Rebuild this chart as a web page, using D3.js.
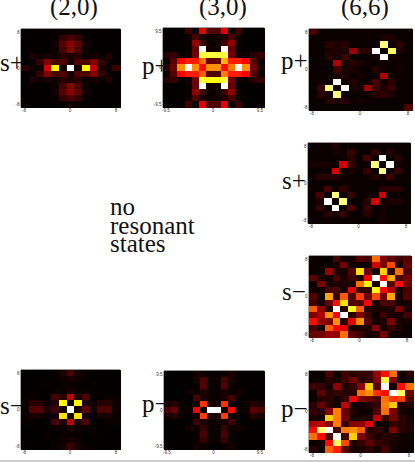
<!DOCTYPE html>
<html><head><meta charset="utf-8">
<style>html,body{margin:0;padding:0;background:#fff}svg{display:block}</style>
<script src="https://cdn.jsdelivr.net/npm/d3@7"></script></head><body>
<svg id="c" width="415" height="462"></svg>
<script>
const titles = ["(2,0)", "(3,0)", "(6,6)"];
const noteLines = ["no", "resonant", "states"];
const rowLabels = ["s+", "p+", "p+", "s+", "s\u2212", "p\u2212", "s\u2212", "p\u2212"];
const tickLabels20 = ["-8", "0", "8"];
const tickLabels30 = ["-9.5", "0", "9.5"];
const tickLabels66 = ["-8", "0", "8"];

const grid20sPlus = [
[1,1,1,1,1,2,3,2,1,1,1,1,1],
[1,1,1,1,2,10,15,10,2,1,1,1,1],
[1,1,1,1,4,18,28,18,4,1,1,1,1],
[1,1,1,1,3,14,25,14,3,1,1,1,1],
[1,6,2,4,3,8,5,8,3,4,2,6,1],
[1,2,10,25,14,15,3,15,14,25,10,2,1],
[8,3,3,36,72,3,100,3,72,34,6,3,10],
[1,2,10,25,14,15,3,15,14,25,10,2,1],
[1,6,2,4,3,8,5,8,3,4,2,6,1],
[1,1,1,1,3,14,25,14,3,1,1,1,1],
[1,1,1,1,4,18,28,18,4,1,1,1,1],
[1,1,1,1,2,10,15,10,2,1,1,1,1],
[1,1,1,1,1,2,3,2,1,1,1,1,1]];

const grid30pPlus = [
[1,1,1,12,3,38,16,16,38,3,12,1,1,1],
[1,1,1,3,14,6,3,3,6,14,3,1,1,1],
[1,1,1,2,28,12,3,3,12,28,2,1,1,1],
[1,1,1,2,20,100,4,4,100,20,2,1,1,1],
[8,10,2,3,22,78,78,78,78,22,3,2,8,10],
[3,16,40,45,45,58,20,20,65,45,45,40,16,3],
[8,20,62,100,62,42,62,62,42,60,100,62,22,4],
[3,16,40,45,45,55,15,15,60,45,45,40,16,3],
[8,10,2,3,22,78,74,74,78,22,3,2,8,10],
[1,1,1,2,20,100,4,4,100,20,2,1,1,1],
[1,1,1,2,28,12,3,3,12,28,2,1,1,1],
[1,1,1,3,14,6,3,3,6,14,3,1,1,1],
[1,1,1,12,3,38,16,16,38,3,12,1,1,1]];

const grid66pPlus = [
[14,3,2,2,3,2,2,3,2,2,2,2,2],
[2,2,2,2,2,2,2,3,2,6,6,2,2],
[2,2,8,6,8,2,2,2,3,85,3,8,2],
[2,2,6,6,6,30,8,8,100,3,82,6,2],
[2,2,7,5,12,2,2,2,5,100,4,2,2],
[2,2,2,32,4,8,5,3,2,3,2,3,2],
[2,2,2,12,4,5,2,2,8,3,2,4,2],
[2,2,2,5,6,2,5,2,2,32,3,2,2],
[2,3,3,100,3,7,2,2,14,4,8,2,2],
[2,10,85,3,100,5,5,30,12,6,10,2,2],
[2,8,4,85,3,2,2,2,8,8,6,2,2],
[2,2,8,6,8,2,5,3,2,2,2,2,2],
[2,2,2,2,2,2,2,2,2,2,2,2,14]];

const grid66sPlus = [
[2,2,2,6,2,2,2,2,2,2,2,2,2],
[2,2,2,5,2,10,2,2,10,2,7,3,2],
[2,2,2,2,3,8,2,14,2,100,2,8,2],
[5,5,5,3,36,10,2,2,85,3,100,4,2],
[2,2,2,36,3,5,2,10,2,85,2,10,2],
[2,8,8,8,3,2,2,3,8,3,12,2,2],
[2,2,2,2,3,3,2,2,2,2,2,2,2],
[2,2,14,2,10,2,2,2,2,8,8,8,2],
[2,14,2,85,2,10,2,3,2,36,2,2,2],
[2,6,100,3,85,2,2,8,36,4,5,6,2],
[2,10,2,100,2,14,2,10,2,4,2,2,2],
[2,2,8,5,10,2,2,8,2,4,2,2,2],
[2,2,2,2,2,3,2,2,2,5,2,2,2]];

const grid66sMinus = [
[2,2,1,14,4,4,16,14,58,25,18,12,16],
[2,2,3,5,22,4,3,3,36,24,52,4,20],
[2,2,30,6,4,16,70,22,4,68,10,58,14],
[18,6,3,14,5,12,6,40,100,42,65,14,22],
[3,24,4,6,6,4,58,72,6,100,18,42,22],
[3,3,14,16,4,38,10,10,74,40,32,4,14],
[16,3,64,10,55,14,50,20,52,22,64,4,16],
[12,4,20,42,70,16,16,40,5,14,14,3,5],
[55,28,5,100,8,76,55,6,5,6,6,24,5],
[25,32,62,40,100,8,25,12,3,12,5,4,14],
[42,28,24,62,8,38,62,16,4,6,24,5,4],
[14,4,55,40,38,5,6,6,26,5,10,5,3],
[20,22,30,28,58,18,12,4,6,24,4,3,3]];

const grid66pMinus = [
[2,2,14,3,12,8,10,10,30,42,58,4,8],
[2,2,8,4,12,22,8,10,26,78,25,3,4],
[12,10,5,28,6,10,28,68,16,100,6,42,58],
[3,18,8,10,8,8,58,62,48,42,100,82,20],
[2,8,8,4,10,40,24,20,14,58,48,50,14],
[8,20,8,4,34,4,4,6,12,60,68,6,8],
[10,8,26,60,20,6,3,3,16,58,24,5,3],
[5,4,68,60,22,4,6,6,34,10,22,8,5],
[32,34,26,60,10,26,28,38,3,3,10,8,6],
[42,85,100,14,60,62,55,6,10,5,24,8,6],
[58,42,14,100,12,68,25,12,6,8,6,3,3],
[3,4,42,82,52,6,10,18,10,8,4,3,3],
[8,3,55,45,16,5,5,8,4,14,3,3,3]];

const grid20sMinus = [
[1,1,1,1,2,6,14,5,2,1,1,1,1],
[1,1,1,1,1,3,5,3,1,1,1,1,1],
[1,1,1,2,1,2,2,2,1,2,1,1,1],
[1,1,1,1,2,2,5,2,2,1,1,1,1],
[2,2,1,1,14,8,34,6,15,1,1,2,2],
[3,8,7,3,6,72,3,72,6,3,7,8,3],
[2,16,16,6,12,4,100,4,18,4,14,14,3],
[2,5,4,2,4,70,3,70,4,2,4,5,2],
[2,2,1,1,14,6,34,6,15,1,1,2,2],
[1,1,1,1,2,2,5,2,2,1,1,1,1],
[1,1,1,2,1,2,2,2,1,2,1,1,1],
[1,1,1,1,1,3,4,3,1,1,1,1,1],
[1,1,1,1,2,5,12,5,2,1,1,1,1]];

const grid30pMinus = [
[1,1,1,1,5,3,1,1,3,5,1,1,1,1],
[1,1,1,1,5,14,2,2,14,5,1,1,1,1],
[1,1,1,1,2,16,2,2,16,2,1,1,1,1],
[1,1,1,4,2,6,2,2,6,2,4,1,1,1],
[1,1,1,1,14,5,3,3,5,14,1,1,1,1],
[5,8,2,1,3,48,4,4,48,3,1,2,8,5],
[14,20,3,3,40,2,100,100,2,42,3,3,18,14],
[5,8,2,1,3,50,6,6,50,3,1,2,8,5],
[1,1,1,1,12,5,3,3,5,12,1,1,1,1],
[1,1,1,4,2,10,2,2,10,2,4,1,1,1],
[1,1,1,1,2,14,2,2,14,2,1,1,1,1],
[1,1,1,1,3,10,2,2,10,3,1,1,1,1],
[1,1,1,1,4,2,1,1,2,4,1,1,1,1]];

const panelGrids = [grid20sPlus, grid30pPlus, grid66pPlus, grid66sPlus, grid66sMinus, grid66pMinus, grid20sMinus, grid30pMinus];
const panelTicks = [tickLabels20, tickLabels30, tickLabels66, tickLabels66, tickLabels66, tickLabels66, tickLabels20, tickLabels30];
const panelX0 = [21,163,309,308,309,309,21,164];
const panelX1 = [120,264,412,410,411,413,120,264];
const panelY0 = [29,28,29,143,256,371,370,371];
const panelY1 = [107,107,110,223,337,452,449,449];
const labelX = [0,142,281,282,282,281,0,142];
const labelY = [71,74,69,189,300,417,414,412];
const titleX = [74,223,365];

const svg = d3.select("#c");
const serif = "'Liberation Serif', serif";
const hot = t => {
  const c = v => Math.round(255*Math.max(0,Math.min(1,v)));
  return `rgb(${c(t/0.365)},${c((t-0.365)/0.381)},${c((t-0.746)/0.254)})`;
};
const colour = d3.scaleLinear().domain([0,5,10,30,40,60,75,100]).range([0,0.035,0.075,0.22,0.36,0.55,0.78,1]);

panelGrids.forEach((g,p)=>{
  const x = d3.scaleBand().domain(d3.range(g[0].length)).range([panelX0[p],panelX1[p]]);
  const y = d3.scaleBand().domain(d3.range(g.length)).range([panelY0[p],panelY1[p]]);
  const cells = g.flatMap((row,r)=>row.map((v,c)=>({r,c,v})));
  const gp = svg.append("g").attr("shape-rendering","crispEdges");
  gp.selectAll("rect").data(cells).join("rect")
    .attr("x",d=>x(d.c)).attr("y",d=>y(d.r))
    .attr("width",x.bandwidth()+0.5).attr("height",y.bandwidth()+0.5)
    .attr("fill",d=>hot(colour(d.v)));
  svg.append("line").attr("x1",panelX0[p]).attr("x2",panelX1[p]).attr("y1",panelY0[p]-0.5).attr("y2",panelY0[p]-0.5).attr("stroke","#999");
  svg.append("line").attr("x1",panelX0[p]-0.5).attr("x2",panelX0[p]-0.5).attr("y1",panelY0[p]).attr("y2",panelY1[p]).attr("stroke","#aaa");
  const ticks = panelTicks[p];
  const xt = d3.scalePoint().domain(ticks).range([panelX0[p]+3,panelX1[p]-4]);
  const yt = d3.scalePoint().domain(ticks).range([panelY1[p]-3,panelY0[p]+3]);
  svg.append("g").selectAll("text").data(ticks).join("text")
    .attr("x",d=>xt(d)).attr("y",panelY1[p]+5).attr("text-anchor","middle")
    .attr("font-family","'Liberation Sans',sans-serif").attr("font-size",4.5).attr("fill","#333").text(d=>d);
  svg.append("g").selectAll("text").data(ticks).join("text")
    .attr("x",panelX0[p]-1.5).attr("y",d=>yt(d)+1.5).attr("text-anchor","end")
    .attr("font-family","'Liberation Sans',sans-serif").attr("font-size",4.5).attr("fill","#333").text(d=>d);
  svg.append("text").attr("x",labelX[p]).attr("y",labelY[p])
    .attr("font-family",serif).attr("font-size",25).attr("fill","#111").text(rowLabels[p]);
});

titles.forEach((t,i)=>svg.append("text").attr("x",titleX[i]).attr("y",15).attr("text-anchor","middle")
  .attr("font-family",serif).attr("font-size",25).attr("fill","#111").text(t));

const noteY = d3.scalePoint().domain(noteLines).range([215,252]);
noteLines.forEach(t=>svg.append("text").attr("x",110).attr("y",noteY(t))
  .attr("font-family",serif).attr("font-size",25).attr("fill","#111").text(t));

svg.append("rect").attr("x",0).attr("y",460).attr("width",415).attr("height",2).attr("fill","#ccc");
</script></body></html>
